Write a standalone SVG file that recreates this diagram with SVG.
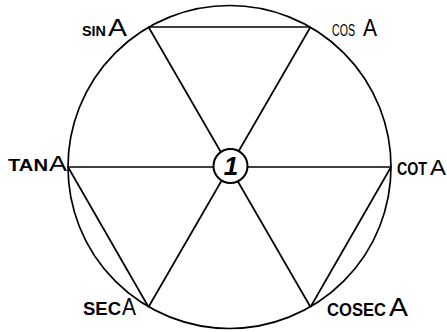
<svg xmlns="http://www.w3.org/2000/svg" width="447" height="332" viewBox="0 0 447 332">
<style>
.ln{stroke:#000;stroke-width:1.7;fill:none}
.lb{font-family:"Liberation Sans",Arial,sans-serif;fill:#000}
.sm{font-weight:bold}
.bg{font-weight:normal}
</style>
<rect width="447" height="332" fill="#fff"/>
<g id="outer-circle">
<circle cx="229.5" cy="167" r="161.5" class="ln" stroke-width="1.8"/>
</g>
<g id="connectors">
<line class="ln" x1="148.5" y1="27" x2="310.5" y2="27"/>
<line class="ln" x1="68" y1="167" x2="391" y2="167"/>
<line class="ln" x1="148.5" y1="27" x2="310.5" y2="307"/>
<line class="ln" x1="310.5" y1="27" x2="148.5" y2="307"/>
<line class="ln" x1="68" y1="167" x2="148.5" y2="307"/>
<line class="ln" x1="391" y1="167" x2="310.5" y2="307"/>
</g>
<g id="center">
<circle cx="230.5" cy="166" r="17" fill="#fff" stroke="#000" stroke-width="2"/>
<text x="231" y="175" font-family="Liberation Sans,Arial,sans-serif" font-weight="bold" font-style="italic" font-size="26" text-anchor="middle">1</text>
</g>
<g id="sinA">
<text class="lb" y="36"><tspan class="sm" x="82" font-size="15" textLength="24" lengthAdjust="spacingAndGlyphs">SIN</tspan><tspan class="bg" x="108" font-size="23" textLength="19" lengthAdjust="spacingAndGlyphs">A</tspan></text>
</g>
<g id="cosA">
<text class="lb" y="36"><tspan class="bg" x="332" font-size="16" textLength="23" lengthAdjust="spacingAndGlyphs">COS</tspan><tspan class="bg" x="363" font-size="23" textLength="14" lengthAdjust="spacingAndGlyphs">A</tspan></text>
</g>
<g id="tanA">
<text class="lb" y="171"><tspan class="sm" x="8" font-size="16" textLength="40" lengthAdjust="spacingAndGlyphs">TAN</tspan><tspan class="bg" x="49" font-size="22" textLength="18" lengthAdjust="spacingAndGlyphs">A</tspan></text>
</g>
<g id="cotA">
<text class="lb" y="175"><tspan class="sm" x="397" font-size="18" textLength="30" lengthAdjust="spacingAndGlyphs">COT</tspan><tspan class="bg" x="430" font-size="22" textLength="16" lengthAdjust="spacingAndGlyphs">A</tspan></text>
</g>
<g id="secA">
<text class="lb" y="315"><tspan class="sm" x="83" font-size="18" textLength="38" lengthAdjust="spacingAndGlyphs">SEC</tspan><tspan class="bg" x="122" font-size="24" textLength="14" lengthAdjust="spacingAndGlyphs">A</tspan></text>
</g>
<g id="cosecA">
<text class="lb" y="316"><tspan class="sm" x="327" font-size="18" textLength="59" lengthAdjust="spacingAndGlyphs">COSEC</tspan><tspan class="bg" x="389" font-size="25" textLength="19" lengthAdjust="spacingAndGlyphs">A</tspan></text>
</g>
</svg>
